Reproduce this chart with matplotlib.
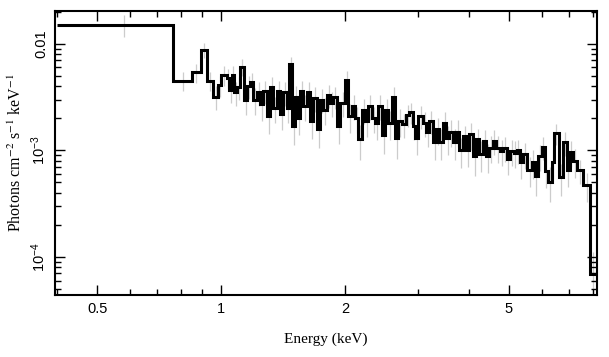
import matplotlib
matplotlib.use("Agg")
import matplotlib.pyplot as plt
import numpy as np

plt.rcParams['font.family'] = ['Liberation Sans', 'DejaVu Sans']
plt.rcParams['mathtext.fontset'] = 'custom'
plt.rcParams['mathtext.rm'] = 'Liberation Sans'
plt.rcParams['mathtext.it'] = 'Liberation Sans:italic'

# bin edges (keV) and unfolded flux (photons cm^-2 s^-1 keV^-1)
edges_low = [0.40, 0.763, 0.849, 0.893, 0.926, 0.958, 0.982, 1.0, 1.032]
flux_low = [0.0151, 0.0045, 0.0054, 0.0088, 0.0045, 0.0032, 0.0041, 0.0051]

edges_a = [1.046, 1.063, 1.075, 1.094, 1.112, 1.137, 1.156, 1.176, 1.196, 1.223,
           1.244, 1.265, 1.293, 1.315, 1.337, 1.367, 1.391, 1.414, 1.446, 1.462,
           1.487, 1.512, 1.529, 1.555]
flux_a = [0.0048, 0.0037, 0.0051, 0.0035, 0.0039, 0.0061, 0.0030, 0.0040, 0.0044, 0.0030,
          0.0035, 0.0027, 0.0036, 0.0021, 0.0039, 0.0025, 0.0036, 0.0022, 0.0035, 0.0025,
          0.0064, 0.0017, 0.0032, 0.0020]

edges_b = [1.581, 1.617, 1.644, 1.672, 1.710, 1.739, 1.768, 1.808, 1.839, 1.870,
           1.912, 1.945, 2.000, 2.034, 2.080, 2.115, 2.150, 2.199, 2.236, 2.274,
           2.325, 2.365, 2.405, 2.459, 2.501, 2.543, 2.600, 2.644, 2.689, 2.750]
flux_b = [0.0036, 0.0026, 0.0035, 0.0019, 0.0031, 0.0016, 0.0030, 0.0024, 0.0033, 0.0028,
          0.0032, 0.0017, 0.0028, 0.0046, 0.0021, 0.0026, 0.0020, 0.00127, 0.0024, 0.0019,
          0.0026, 0.0020, 0.0018, 0.0026, 0.0014, 0.0024, 0.0018, 0.0032, 0.0013, 0.0019]

edges_c = [2.812, 2.860, 2.924, 2.957, 3.007, 3.092, 3.145, 3.198, 3.270, 3.325,
           3.382, 3.458, 3.517, 3.576, 3.657, 3.719, 3.782, 3.867, 3.933, 3.999,
           4.089, 4.159, 4.229, 4.325, 4.398, 4.472, 4.573, 4.650, 4.756]
flux_c = [0.00175, 0.00217, 0.00227, 0.00168, 0.0013, 0.0021, 0.00182, 0.0015, 0.00187, 0.00119,
          0.00157, 0.00119, 0.00182, 0.0013, 0.0015, 0.00119, 0.0015, 0.0010, 0.00135, 0.0010,
          0.00141, 0.00088, 0.00127, 0.00092, 0.00122, 0.00088, 0.00106, 0.00122, 0.00106]

edges_d = [4.836, 4.945, 5.029, 5.143, 5.229, 5.318, 5.408, 5.530, 5.687, 5.783,
           5.881, 6.014, 6.116, 6.219, 6.360, 6.431, 6.613, 6.763, 6.916, 7.033,
           7.152, 7.313, 7.563, 7.864, 8.178]
flux_d = [0.00098, 0.00106, 0.00083, 0.00098, 0.00095, 0.0010, 0.00077, 0.00092, 0.00066, 0.00077,
          0.00057, 0.00088, 0.00107, 0.00064, 0.00051, 0.00077, 0.00144, 0.00056, 0.00119, 0.00066,
          0.00096, 0.00079, 0.00065, 0.00047, 0.000069]

# relative 1-sigma errors per bin
rel_err = [0.24, 0.20, 0.20, 0.16, 0.20, 0.26, 0.22, 0.22,
           0.22, 0.25, 0.22, 0.26, 0.24, 0.18, 0.28, 0.24, 0.22, 0.28,
           0.25, 0.30, 0.24, 0.32, 0.24, 0.28, 0.24, 0.30, 0.25, 0.28,
           0.18, 0.34, 0.26, 0.30,
           0.24, 0.28, 0.25, 0.32, 0.26, 0.34, 0.26, 0.28, 0.24, 0.26,
           0.24, 0.32, 0.26, 0.20, 0.30, 0.26, 0.28, 0.36, 0.26, 0.30,
           0.26, 0.28, 0.30, 0.26, 0.34, 0.26, 0.30, 0.22, 0.36, 0.30,
           0.26, 0.24, 0.22, 0.26, 0.30, 0.24, 0.26, 0.28, 0.24, 0.32,
           0.28, 0.32, 0.26, 0.30, 0.28, 0.32, 0.28, 0.32, 0.26, 0.30,
           0.28, 0.34, 0.26, 0.32, 0.28, 0.30, 0.28, 0.26, 0.28,
           0.28, 0.26, 0.30, 0.28, 0.28, 0.26, 0.30, 0.28, 0.32, 0.30,
           0.34, 0.28, 0.24, 0.30, 0.36, 0.30, 0.22, 0.34, 0.26, 0.32,
           0.28, 0.30, 0.26, 0.30, 0.60]

edges = np.array(edges_low + edges_a + edges_b + edges_c + edges_d)
flux = np.array(flux_low + flux_a + flux_b + flux_c + flux_d)
rel = np.array(rel_err[:len(flux)])
if len(rel) < len(flux):
    rel = np.concatenate([rel, np.full(len(flux) - len(rel), 0.28)])

centers = 0.5 * (edges[:-1] + edges[1:])
err = flux * rel

fig = plt.figure(figsize=(6.09, 3.57), dpi=100)
ax = fig.add_axes([0.0903, 0.174, 0.8900, 0.795])

ax.errorbar(centers, flux, yerr=err, fmt='none', ecolor='#cccccc', elinewidth=0.9, zorder=1)
ax.stairs(flux, edges, baseline=None, color='black', linewidth=2.2, zorder=2)

ax.set_xscale('log')
ax.set_yscale('log')
ax.set_xlim(0.395, 8.18)
ax.set_ylim(4.4e-5, 0.0203)

ax.set_xticks([0.5, 1, 2, 5], labels=['0.5', '1', '2', '5'])
ax.set_yticks([1e-4, 1e-3, 1e-2], labels=['$10^{-4}$', '$10^{-3}$', '0.01'])
ax.xaxis.set_minor_formatter(matplotlib.ticker.NullFormatter())
ax.yaxis.set_minor_formatter(matplotlib.ticker.NullFormatter())
for lab in ax.get_yticklabels():
    lab.set_rotation(90)
    lab.set_va('center')

ax.tick_params(which='both', direction='in', top=True, right=True, labelsize=10.5, width=1.0)
ax.tick_params(which='major', length=7, pad=5)
ax.tick_params(which='minor', length=4)
for s in ax.spines.values():
    s.set_linewidth(1.5)

ax.set_xlabel('Energy (keV)', family='Liberation Serif', fontsize=11, labelpad=12)
ax.set_ylabel('Photons cm$^{-2}$ s$^{-1}$ keV$^{-1}$', family='Liberation Serif',
              fontsize=11.5, math_fontfamily='stix', labelpad=3)

fig.savefig('out.png', dpi=100)
